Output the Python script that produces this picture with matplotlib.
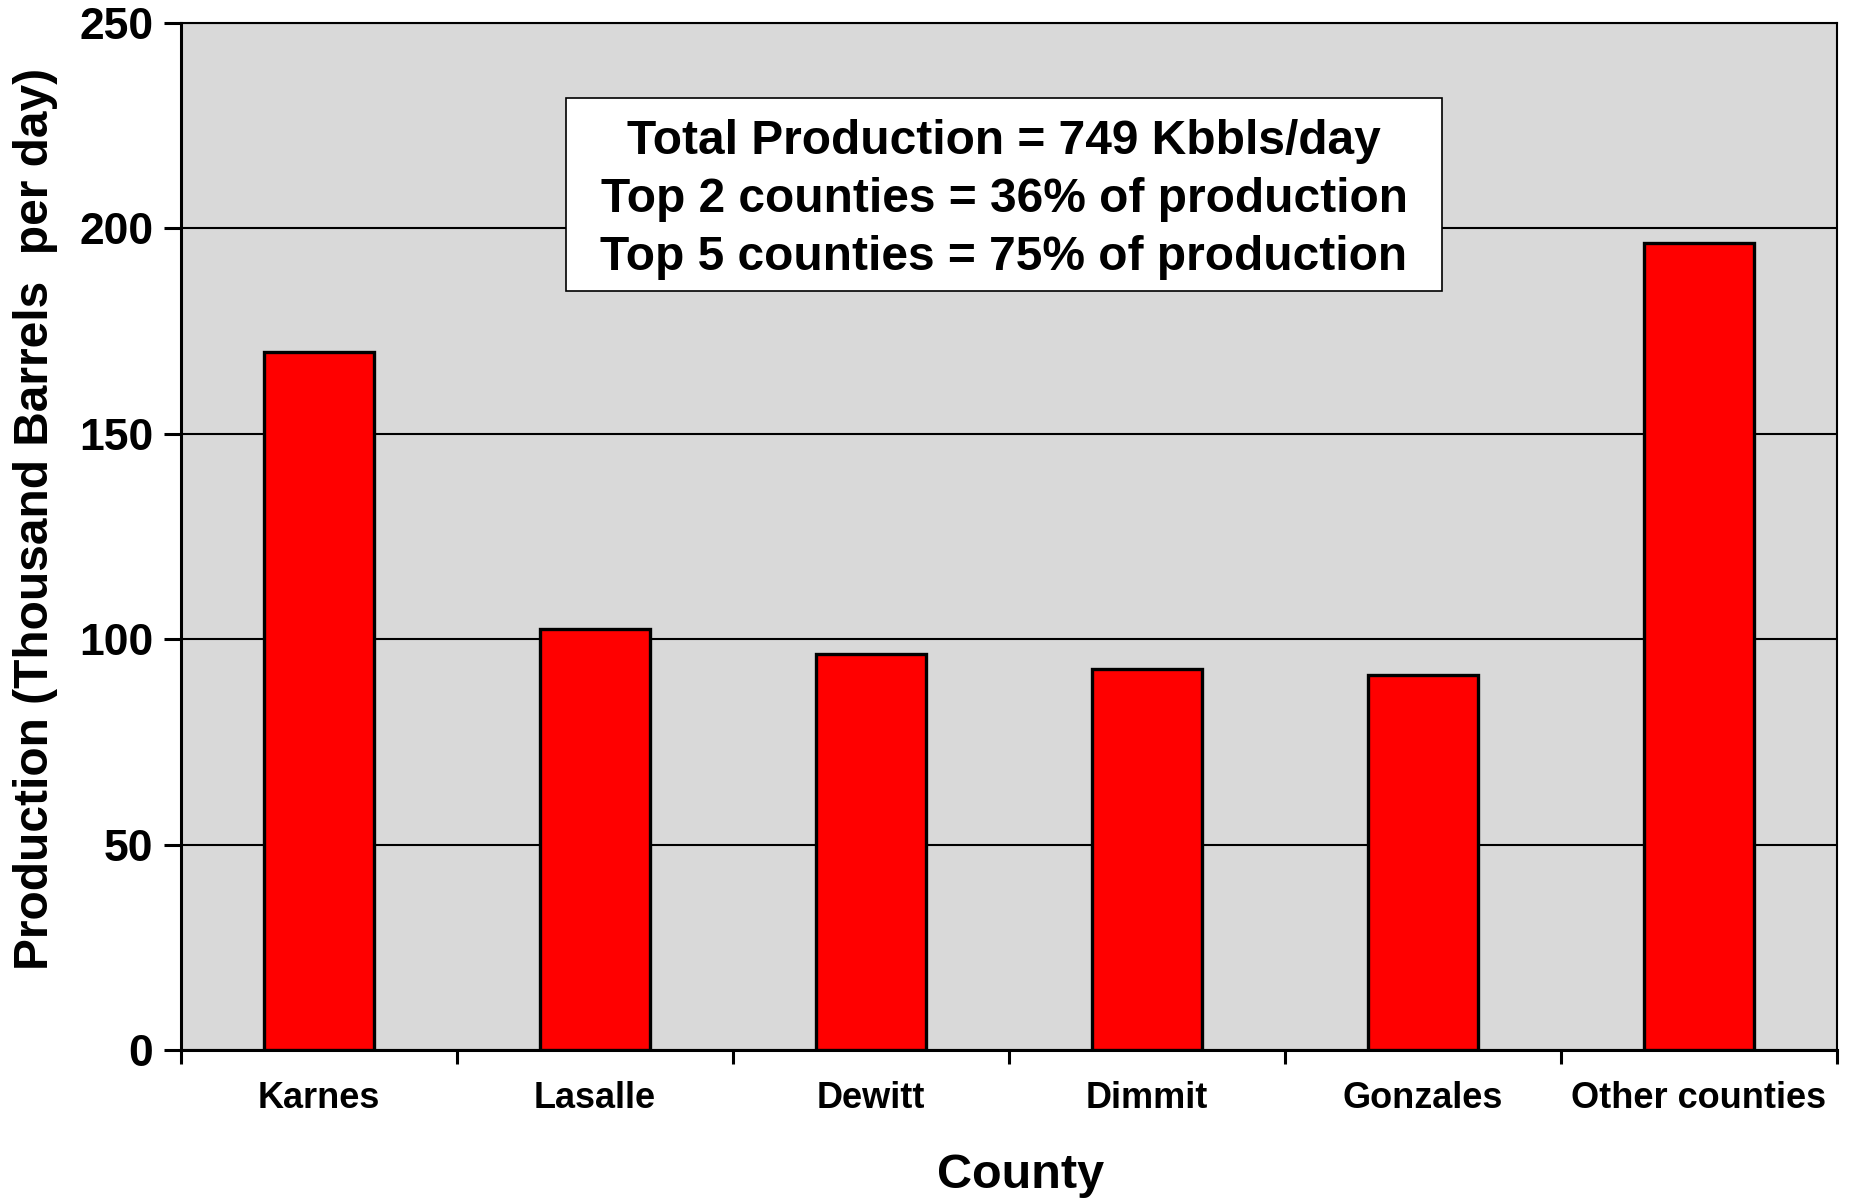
import matplotlib.pyplot as plt
from matplotlib.patches import Rectangle
import numpy as np

plt.rcParams['font.family'] = ['Liberation Sans', 'DejaVu Sans']
plt.rcParams['font.weight'] = 'bold'

# data
counties = ['Karnes', 'Lasalle', 'Dewitt', 'Dimmit', 'Gonzales', 'Other counties']
production = [169.8, 102.5, 96.4, 92.8, 91.4, 196.4]
note_lines = ['Total Production = 749 Kbbls/day',
              'Top 2 counties = 36% of production',
              'Top 5 counties = 75% of production']

fig = plt.figure(figsize=(18.5, 11.99), dpi=100)
ax = fig.add_axes([0.0978, 0.1243, 0.8952, 0.8565])
ax.set_facecolor('#d9d9d9')

x = np.arange(len(counties))
ax.bar(x, production, width=0.4, color='#ff0000', edgecolor='black', linewidth=2.4, zorder=3)

ax.set_xlim(-0.5, len(counties) - 0.5)
ax.set_ylim(0, 250)
ax.set_yticks(np.arange(0, 251, 50))
ax.yaxis.grid(True, color='black', linewidth=1.5, zorder=1)
ax.set_axisbelow(True)

# category labels centred, tick marks at the boundaries
ax.set_xticks(x)
ax.set_xticklabels(counties, fontsize=26, fontweight='bold')
ax.tick_params(axis='x', which='major', length=0, pad=22)
ax.set_xticks(np.arange(-0.5, len(counties), 1), minor=True)
ax.tick_params(axis='x', which='minor', length=10, width=2.2, direction='out')
ax.tick_params(axis='y', length=12, width=2.2, labelsize=32, pad=8)
for lbl in ax.get_yticklabels():
    lbl.set_fontweight('bold')

for s in ax.spines.values():
    s.set_linewidth(2.2)
    s.set_color('black')
ax.spines['top'].set_linewidth(1.5)
ax.spines['right'].set_linewidth(1.5)

ax.set_ylabel('Production (Thousand Barrels  per day)', fontsize=34.5, fontweight='bold', labelpad=11)
ax.yaxis.set_label_coords(-0.074, 0.517)
ax.set_xlabel('County', fontsize=35, fontweight='bold')
ax.xaxis.set_label_coords(0.507, -0.1)

# note box
ax.add_patch(Rectangle((0.2325, 0.739), 0.529, 0.188, transform=ax.transAxes,
                       facecolor='white', edgecolor='black', linewidth=1.2, zorder=5))
ax.text(0.497, 0.828, '\n'.join(note_lines), transform=ax.transAxes,
        ha='center', va='center', fontsize=34.5, fontweight='bold', linespacing=1.37,
        zorder=6)

plt.savefig('out.png', dpi=100)
